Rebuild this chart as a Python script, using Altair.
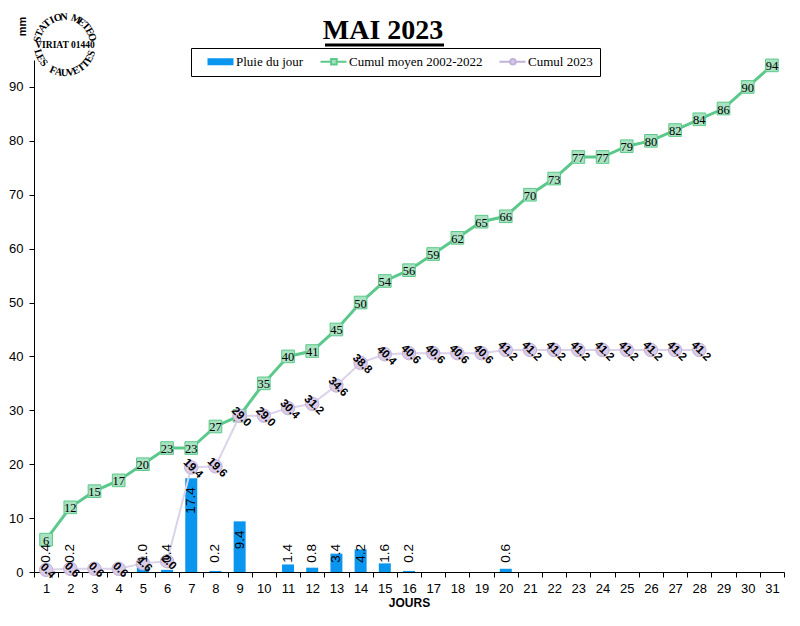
import math
import altair as alt
import pandas as pd

# ---------------- data ----------------
days = list(range(1, 32))
rain = [0.4, 0.2, 0.0, 0.0, 1.0, 0.4, 17.4, 0.2, 9.4, 0.0,
        1.4, 0.8, 3.4, 4.2, 1.6, 0.2, 0.0, 0.0, 0.0, 0.6,
        0.0, 0.0, 0.0, 0.0, 0.0, 0.0, 0.0, 0.0, 0.0, 0.0, 0.0]
mean_cumul = [6, 12, 15, 17, 20, 23, 23, 27, 29, 35,
              40, 41, 45, 50, 54, 56, 59, 62, 65, 66,
              70, 73, 77, 77, 79, 80, 82, 84, 86, 90, 94]
cumul_2023 = [0.4, 0.6, 0.6, 0.6, 1.6, 2.0, 19.4, 19.6, 29.0, 29.0,
              30.4, 31.2, 34.6, 38.8, 40.4, 40.6, 40.6, 40.6, 40.6, 41.2,
              41.2, 41.2, 41.2, 41.2, 41.2, 41.2, 41.2, 41.2]
series_names = ["Pluie du jour", "Cumul moyen 2002-2022", "Cumul 2023"]
y_ticks = list(range(0, 100, 10))
title_text = "MAI 2023"
logo_top = "STATION METEO"
logo_mid = "VIRIAT 01440"
logo_bottom = "LES FAUVETTES"

df_rain = pd.DataFrame({"day": days, "value": rain})
df_mean = pd.DataFrame({"day": days, "value": mean_cumul})
df_c23 = pd.DataFrame({"day": days[:len(cumul_2023)], "value": cumul_2023})

# ---------------- style ----------------
BLUE = "#0A96EE"
GREEN = "#5CC98C"
GREEN_FILL = "#A8E2C0"
PURPLE_LINE = "#DCD2EA"
PURPLE_FILL = "#D8CCE8"
PURPLE_STROKE = "#C2B2D8"
SANS = "Liberation Sans"
SERIF = "Liberation Serif"

x_axis = alt.Axis(title="JOURS", labelAngle=0, tickBand="extent", labelFont=SANS,
                  labelFontSize=13, labelColor="black", labelPadding=5, tickSize=5,
                  tickColor="black", domainColor="black", titleFont=SANS,
                  titleFontSize=12, titleFontWeight="bold", titleColor="black",
                  titlePadding=2, grid=False)
y_axis = alt.Axis(title="mm", values=y_ticks, labelFont=SANS, labelFontSize=13,
                  labelColor="black", labelPadding=6, tickSize=5, tickColor="black",
                  domainColor="black", grid=False, titleFont=SANS, titleFontSize=11,
                  titleFontWeight="bold", titleColor="black", titleAngle=270,
                  titleX=-12, titleY=-34, titleAlign="center", titleBaseline="middle")
x_scale = alt.Scale(domain=days, paddingInner=0, paddingOuter=0)
y_scale = alt.Scale(domain=[0, 95], nice=False)


def X():
    return alt.X("day:O", scale=x_scale, axis=x_axis)


def Y(field="value"):
    return alt.Y(f"{field}:Q", scale=y_scale, axis=y_axis)


bars = alt.Chart(df_rain).mark_bar(color=BLUE, size=12).encode(x=X(), y=Y())

green_line = alt.Chart(df_mean).mark_line(color=GREEN, strokeWidth=3).encode(x=X(), y=Y())
green_pts = alt.Chart(df_mean).mark_point(shape="square", filled=True, size=160,
                                         fill=GREEN_FILL, stroke=GREEN, strokeWidth=1,
                                         opacity=1).encode(x=X(), y=Y())
green_txt = alt.Chart(df_mean).mark_text(font=SERIF, fontSize=12.5, color="black",
                                        dy=1).encode(x=X(), y=Y(), text="value:Q")

purple_line = alt.Chart(df_c23).mark_line(color=PURPLE_LINE, strokeWidth=2).encode(x=X(), y=Y())
purple_pts = alt.Chart(df_c23).mark_point(shape="circle", filled=True, size=180,
                                         fill=PURPLE_FILL, stroke=PURPLE_STROKE,
                                         strokeWidth=1, opacity=1).encode(x=X(), y=Y())
purple_txt = alt.Chart(df_c23).mark_text(font=SANS, fontSize=11.5, fontWeight="bold",
                                        color="black", angle=45, dx=2).encode(
    x=X(), y=Y(), text=alt.Text("value:Q", format=".1f"))

bar_txt = alt.Chart(df_rain).transform_filter("datum.value > 0").transform_calculate(
    lab="format(datum.value, '.1f')"
).transform_calculate(
    pos="max(datum.value - 1.7 - ((length(datum.lab) - 1) * 7.5 + 3.75) / 5.39, 1.7)"
).mark_text(font=SANS, fontSize=13.5, color="black", angle=270, align="left",
            baseline="middle").encode(x=X(), y=Y("pos"), text="lab:N")

# ---------------- legend ----------------
leg = alt.Legend(title=None, orient="none", legendX=157, legendY=-12, direction="horizontal",
                 strokeColor="black", fillColor="white", padding=7, labelFont=SERIF,
                 labelFontSize=13, labelColor="black", symbolSize=64, symbolStrokeWidth=2,
                 symbolOpacity=1, labelOffset=25, columnPadding=7, labelLimit=0)
sym_paths = [
    "M1,-0.6H7V0.6H1Z",
    "M0.75,0H3.4M4.8,0H7.25M3.4,-0.7H4.8V0.7H3.4Z",
    "M0.75,0H3.4M4.8,0H7.25M3.4,0A0.7,0.7 0 1,0 4.8,0A0.7,0.7 0 1,0 3.4,0Z",
]
legend_layer = alt.Chart(pd.DataFrame({"series": series_names})).mark_point(
    filled=True, opacity=0).encode(
    fill=alt.Fill("series:N", scale=alt.Scale(domain=series_names,
                  range=[BLUE, GREEN_FILL, PURPLE_FILL]), legend=leg),
    stroke=alt.Stroke("series:N", scale=alt.Scale(domain=series_names,
                      range=[BLUE, GREEN, PURPLE_STROKE]), legend=leg),
    shape=alt.Shape("series:N", scale=alt.Scale(domain=series_names, range=sym_paths),
                    legend=leg),
)

# ---------------- title ----------------
title = alt.Chart(alt.Data(values=[{"t": title_text}])).mark_text(
    font=SERIF, fontSize=28, fontWeight="bold", color="black", align="center",
    baseline="alphabetic").encode(x=alt.value(349), y=alt.value(-21), text="t:N")
underline = alt.Chart(alt.Data(values=[{"t": 1}])).mark_rule(
    color="black", strokeWidth=3).encode(x=alt.value(291), x2=alt.value(410), y=alt.value(-15))

# ---------------- logo (circular stamp text) ----------------
cx, cy, r = 31, -15, 28
rows = []
n = len(logo_top)
for i, ch in enumerate(logo_top):
    th = -78 + 152 * i / (n - 1)
    t = math.radians(th)
    rows.append({"ch": ch, "px": cx + r * math.sin(t), "py": cy - r * math.cos(t),
                 "ang": th % 360})
n = len(logo_bottom)
for i, ch in enumerate(logo_bottom):
    b = 74 - 146 * i / (n - 1)
    t = math.radians(b)
    rows.append({"ch": ch, "px": cx - r * math.sin(t), "py": cy + r * math.cos(t),
                 "ang": b % 360})
logo_arc = alt.Chart(pd.DataFrame(rows)).mark_text(
    font=SERIF, fontSize=10.5, fontWeight="bold", color="black", align="center",
    baseline="middle").encode(
    x=alt.X("px:Q", scale=None), y=alt.Y("py:Q", scale=None),
    angle=alt.Angle("ang:Q", scale=None), text="ch:N")
logo_center = alt.Chart(alt.Data(values=[{"t": logo_mid}])).mark_text(
    font=SERIF, fontSize=9.5, fontWeight="bold", color="black", align="center",
    baseline="middle").encode(x=alt.value(cx), y=alt.value(cy), text="t:N")

chart = alt.layer(
    bars, green_line, green_pts, green_txt, purple_line, purple_pts, purple_txt,
    bar_txt, legend_layer, title, underline, logo_arc, logo_center
).properties(
    width=750, height=512,
    autosize=alt.AutoSizeParams(type="none"),
    padding={"left": 34, "top": 60, "right": 16, "bottom": 54},
    background="white",
).configure_view(stroke=None)

chart.save("out.html", embed_options={"renderer": "svg", "actions": False})
